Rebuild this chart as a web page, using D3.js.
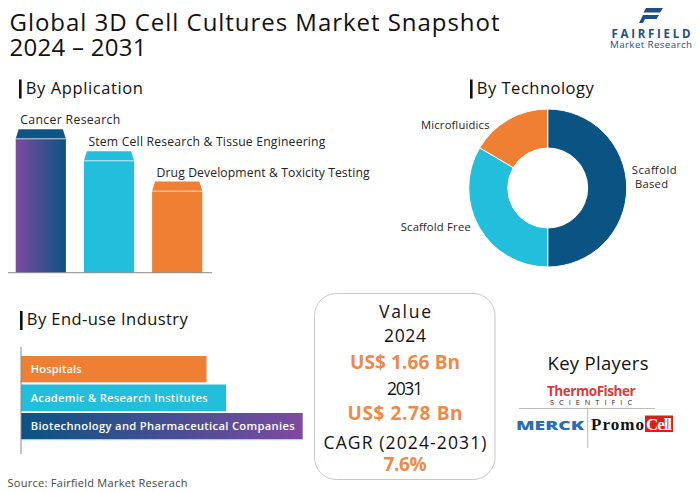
<!DOCTYPE html>
<html><head><meta charset="utf-8">
<script src="https://cdn.jsdelivr.net/npm/d3@7"></script>
<style>
html,body{margin:0;padding:0;background:#fff;}
svg{display:block;font-family:"Open Sans","Noto Sans",sans-serif;}
</style></head>
<body>
<svg id="c" width="700" height="491"></svg>
<script>
// ---- data ----
const appCategories = ["Cancer Research", "Stem Cell Research & Tissue Engineering", "Drug Development & Toxicity Testing"];
const appValues = [40.3, 34.1, 25.6];
const techCategories = ["Scaffold Based", "Scaffold Free", "Microfluidics"];
const techValues = [50, 33.5, 16.5];
const endCategories = ["Hospitals", "Academic & Research Institutes", "Biotechnology and Pharmaceutical Companies"];
const endValues = [27.6, 30.5, 41.9];
const valueLines = ["Value", "2024", "US$ 1.66 Bn", "2031", "US$ 2.78 Bn", "CAGR (2024-2031)", "7.6%"];

const NAVY = "#0b5383", CYAN = "#22bedb", ORANGE = "#ee7f33", PURPLE = "#7d4a9f";
const svg = d3.select("#c");
const defs = svg.append("defs");
const g1 = defs.append("linearGradient").attr("id","gApp").attr("x1","0").attr("x2","1").attr("y1","0").attr("y2","0");
g1.append("stop").attr("offset","0").attr("stop-color",PURPLE);
g1.append("stop").attr("offset","1").attr("stop-color",NAVY);
const g2 = defs.append("linearGradient").attr("id","gEnd").attr("x1","0").attr("x2","1").attr("y1","0").attr("y2","0");
g2.append("stop").attr("offset","0").attr("stop-color",NAVY);
g2.append("stop").attr("offset","1").attr("stop-color",PURPLE);

// text helper: stretch spacing to the width the reference shows
function txt(x, y, s, size, w, opts={}){
  const t = svg.append("text").attr("x",x).attr("y",y).attr("font-size",size).attr("fill",opts.fill||"#111").text(s);
  if (opts.anchor) t.attr("text-anchor",opts.anchor);
  if (opts.weight) t.attr("font-weight",opts.weight);
  if (opts.family) t.attr("font-family",opts.family);
  if (w) t.attr("textLength",w).attr("lengthAdjust","spacing");
  return t;
}

// ---- title ----
txt(9.5, 31, "Global 3D Cell Cultures Market Snapshot", 24, 490);
txt(9.5, 56, "2024 \u2013 2031", 24, 137);

// logo
const logo = svg.append("g").attr("fill","#1b4f86");
logo.append("path").attr("d","M646,8 L663,8 L660,12.5 L643.5,12.5 Z");
logo.append("path").attr("d","M643,15 L659,15 L656.5,19 L641,19 Z");
logo.append("path").attr("d","M641,19 L645,19 L643,23 L639,23 Z");
txt(651, 38, "FAIRFIELD", 11.5, 79, {anchor:"middle", weight:"bold", fill:"#1b4f86"});
txt(651, 47.5, "Market Research", 9.8, 82, {anchor:"middle", fill:"#1b4f86"});

function header(x, y, s, w){
  svg.append("rect").attr("x",x).attr("y",y-14).attr("width",2.6).attr("height",19).attr("fill","#111");
  txt(x+6.8, y, s, 16.5, w);
}
header(19, 93.5, "By Application", 117);
header(470, 93.5, "By Technology", 117);
header(20, 325, "By End-use Industry", 161);

// ---- By Application ----
const baseY = 272.7;
const xApp = d3.scaleBand().domain(appCategories).range([15.7, 202.3]).paddingInner(0.264);
const yApp = d3.scaleLinear().domain([0, d3.max(appValues)]).range([baseY, 129.3]);
const appFill = ["url(#gApp)", CYAN, ORANGE];
const capFill = ["#0f5486", CYAN, ORANGE];
const appLabelW = [100, 237, 213];
const capH = 9.5;
appCategories.forEach((c,i)=>{
  const x = xApp(c), w = xApp.bandwidth(), yt = yApp(appValues[i]);
  svg.append("rect").attr("x",x).attr("y",yt+capH).attr("width",w).attr("height",baseY-yt-capH).attr("fill",appFill[i]);
  svg.append("path").attr("d",`M${x+3},${yt} L${x+w-3},${yt} L${x+w},${yt+capH} L${x},${yt+capH} Z`).attr("fill",capFill[i]);
  svg.append("line").attr("x1",x).attr("x2",x+w).attr("y1",yt+capH).attr("y2",yt+capH).attr("stroke","#fff").attr("stroke-width",0.8).attr("opacity",0.8);
  txt(x+4.5, yt-5, c, 12.2, appLabelW[i], {fill:"#222"});
});
svg.append("line").attr("x1",8).attr("x2",212).attr("y1",baseY).attr("y2",baseY).attr("stroke","#8a8a8a").attr("stroke-width",1);

// ---- By Technology ----
const cx = 547.7, cy = 188;
const pie = d3.pie().sort(null).value(d=>d)(techValues);
const arc = d3.arc().innerRadius(40).outerRadius(79);
const techColors = [NAVY, CYAN, ORANGE];
svg.append("g").attr("transform",`translate(${cx},${cy})`).selectAll("path").data(pie).join("path")
  .attr("d",arc).attr("fill",(d,i)=>techColors[i]).attr("stroke","#fff").attr("stroke-width",1);
txt(631.7, 174.3, "Scaffold", 11.2, 45, {fill:"#222"});
txt(635, 187.5, "Based", 11.2, 33, {fill:"#222"});
txt(400.7, 231, "Scaffold Free", 11.2, 70, {fill:"#222"});
txt(421, 128.5, "Microfluidics", 11.2, 68.5, {fill:"#222"});

// ---- By End-use Industry ----
const xEnd = d3.scaleLinear().domain([0, d3.max(endValues)]).range([21, 302.7]);
const yEnd = d3.scaleBand().domain(endCategories).range([356, 439.5]).paddingInner(0.07);
const endFill = [ORANGE, CYAN, "url(#gEnd)"];
const endLabelW = [51, 177, 264];
endCategories.forEach((c,i)=>{
  const y = yEnd(c), h = yEnd.bandwidth();
  svg.append("rect").attr("x",xEnd(0)).attr("y",y).attr("width",xEnd(endValues[i])-xEnd(0)).attr("height",h).attr("fill",endFill[i]);
  svg.append("line").attr("x1",xEnd(0)).attr("x2",xEnd(endValues[i])).attr("y1",y+h+0.5).attr("y2",y+h+0.5).attr("stroke","#d8eef5").attr("stroke-width",1);
  txt(30.7, y+h/2+4, c, 11.2, endLabelW[i], {weight:600, fill:"#fff"});
});
svg.append("line").attr("x1",21).attr("x2",21).attr("y1",346.7).attr("y2",454).attr("stroke","#888").attr("stroke-width",1);

// ---- Value box ----
svg.append("rect").attr("x",314.5).attr("y",293.5).attr("width",180.5).attr("height",186).attr("rx",22).attr("fill","none").attr("stroke","#c8c8c8").attr("stroke-width",1);
const vy = [317.5, 342, 368.5, 394.5, 419.5, 448.5, 471];
const vw = [52, 42, 110, 36, 115, 163, 43];
valueLines.forEach((t,i)=>{
  const hi = (i===2||i===4||i===6);
  txt(405, vy[i], t, hi?19:17.5, vw[i], {anchor:"middle", weight:hi?"bold":null, fill:hi?"#ec8a4a":"#111"});
});

// ---- Key players ----
txt(598, 369.5, "Key Players", 18.5, 101, {anchor:"middle"});
txt(591, 395.5, "ThermoFisher", 13.5, 88, {anchor:"middle", weight:"bold", fill:"#e0393a"}).attr("letter-spacing",-0.6);
txt(591, 404.5, "SCIENTIFIC", 7.3, 82, {anchor:"middle", fill:"#222"});
svg.append("line").attr("x1",519).attr("x2",655).attr("y1",408.5).attr("y2",408.5).attr("stroke","#aaa").attr("stroke-width",0.8);
svg.append("line").attr("x1",587.7).attr("x2",587.7).attr("y1",408.5).attr("y2",448).attr("stroke","#aaa").attr("stroke-width",0.8);
svg.append("text").attr("x",516).attr("y",430).attr("font-size",15).attr("font-weight","900").attr("fill","#2a6db4")
  .attr("textLength",68).attr("lengthAdjust","spacingAndGlyphs")
  .attr("transform","translate(0,430) scale(1,0.85) translate(0,-430)").text("MERCK");
txt(591, 430, "Promo", 17, 53, {family:"Liberation Serif, serif", weight:"bold"});
svg.append("rect").attr("x",645).attr("y",415.5).attr("width",28).attr("height",16.5).attr("fill","#e01b1b");
txt(659, 430, "Cell", 17, 26, {anchor:"middle", family:"Liberation Serif, serif", weight:"bold", fill:"#fff"});

// source
txt(7.5, 486.5, "Source: Fairfield Market Reserach", 11, 180, {fill:"#444"});
</script>
</body></html>
